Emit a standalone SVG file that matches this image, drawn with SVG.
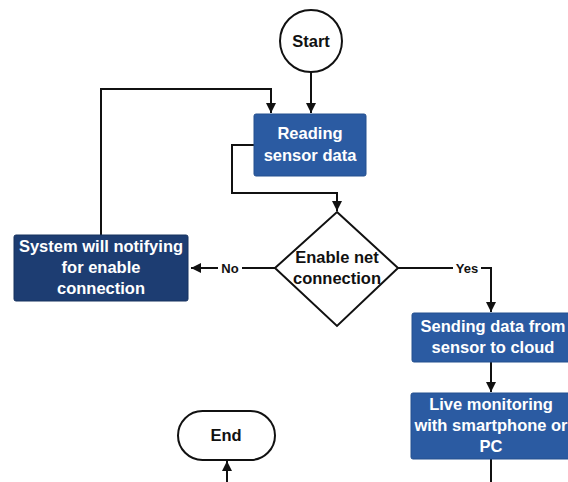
<svg xmlns="http://www.w3.org/2000/svg" width="568" height="482" viewBox="0 0 568 482">
  <style>
    .line { fill: none; stroke: #111; stroke-width: 2; }
    .arrowed { marker-end: url(#arrow); }
    .term { fill: #fff; stroke: #111; stroke-width: 2; }
    .proc { fill: #2b5ba2; stroke: #24508f; stroke-width: 1; }
    .proc-dark { fill: #1d3d72; stroke: #17325f; stroke-width: 1; }
    .txt { font-family: "Liberation Sans", Arial, sans-serif; font-weight: bold; font-size: 16.5px; text-anchor: middle; }
    .white { fill: #fff; }
    .black { fill: #111; }
    .lbl { font-family: "Liberation Sans", Arial, sans-serif; font-weight: bold; font-size: 13px; text-anchor: middle; fill: #111; }
  </style>
  <defs>
    <marker id="arrow" viewBox="0 0 10 10" refX="10" refY="5" markerWidth="5" markerHeight="5" orient="auto" markerUnits="strokeWidth">
      <path d="M0,0 L10,5 L0,10 z" fill="#111"/>
    </marker>
  </defs>
  <rect width="568" height="482" fill="#fff"/>

  <g id="connectors">
    <!-- start to reading -->
    <path class="line arrowed" d="M311,72 L311,113"/>
    <!-- loop back from notification to reading -->
    <path class="line arrowed" d="M101,235 L101,89 L271,89 L271,113"/>
    <!-- reading to decision -->
    <path class="line arrowed" d="M254,145 L232,145 L232,193 L337,193 L337,211"/>
    <!-- decision: no -->
    <path class="line arrowed" d="M275,268 L191,268"/>
    <rect x="218" y="260" width="24" height="16" fill="#fff"/>
    <text class="lbl" x="230" y="273">No</text>
    <!-- decision: yes -->
    <path class="line arrowed" d="M398,268 L491,268 L491,312"/>
    <rect x="453" y="260" width="28" height="16" fill="#fff"/>
    <text class="lbl" x="467" y="273">Yes</text>
    <!-- sending to live -->
    <path class="line arrowed" d="M491,362 L491,392"/>
    <!-- live onward -->
    <path class="line" d="M491,459 L491,482"/>
    <!-- into end -->
    <path class="line arrowed" d="M227,482 L227,461"/>
  </g>

  <g id="start">
    <circle class="term" cx="311" cy="41" r="31"/>
    <text class="txt black" x="311" y="47">Start</text>
  </g>

  <g id="reading">
    <rect class="proc" x="254" y="114" width="112" height="62" rx="2"/>
    <text class="txt white" x="310" y="139">Reading</text>
    <text class="txt white" x="310" y="161">sensor data</text>
  </g>

  <g id="decision">
    <polygon class="term" points="337,212 398,268 337,326 275,268"/>
    <text class="txt black" x="337" y="263">Enable net</text>
    <text class="txt black" x="337" y="284">connection</text>
  </g>

  <g id="notify">
    <rect class="proc-dark" x="14" y="235" width="174" height="66" rx="2"/>
    <text class="txt white" x="101" y="252">System will notifying</text>
    <text class="txt white" x="101" y="273">for enable</text>
    <text class="txt white" x="101" y="294">connection</text>
  </g>

  <g id="sending">
    <rect class="proc" x="412" y="313" width="162" height="49" rx="2"/>
    <text class="txt white" x="493" y="332">Sending data from</text>
    <text class="txt white" x="493" y="353">sensor to cloud</text>
  </g>

  <g id="live">
    <rect class="proc" x="411" y="393" width="163" height="66" rx="2"/>
    <text class="txt white" x="491" y="410">Live monitoring</text>
    <text class="txt white" x="491" y="431">with smartphone or</text>
    <text class="txt white" x="491" y="452">PC</text>
  </g>

  <g id="end">
    <rect class="term" x="178" y="411" width="97" height="49" rx="24.5"/>
    <text class="txt black" x="226" y="441">End</text>
  </g>
</svg>
